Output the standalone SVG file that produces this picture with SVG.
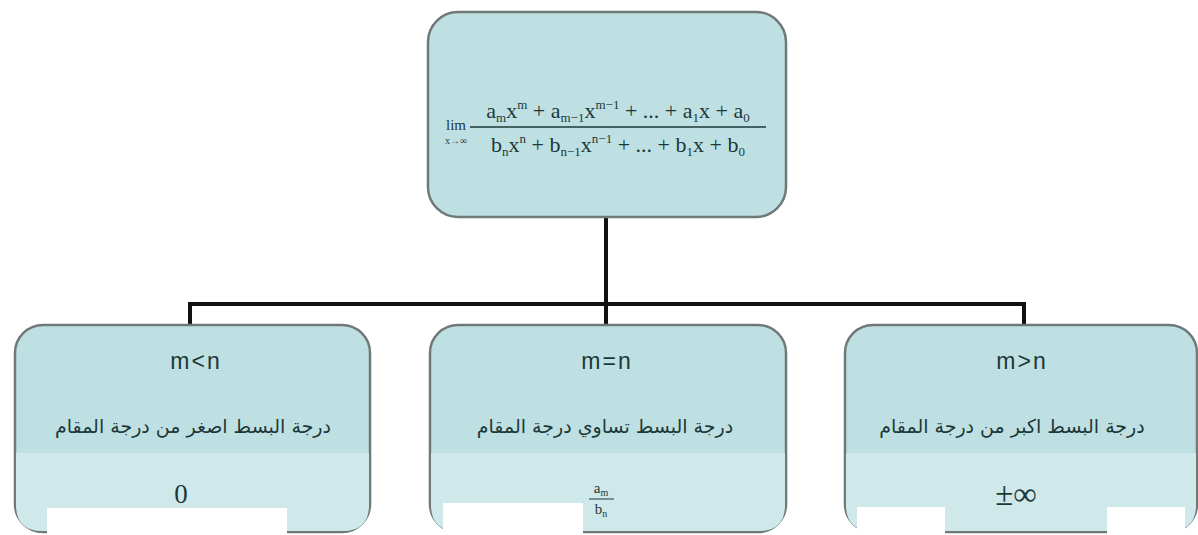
<svg xmlns="http://www.w3.org/2000/svg" width="1198" height="535" viewBox="0 0 1198 535">
<style>
.box{fill:#bfe0e3;stroke:#6f7a78;stroke-width:2.5}
.band{fill:#cfe8ea}
.wh{fill:#ffffff}
.conn{stroke:#111;stroke-width:4;fill:none}
.lbl{font-family:"Liberation Sans",Arial,sans-serif;font-size:23px;letter-spacing:2px;fill:#1d3838;text-anchor:middle}
.ar{font-family:"DejaVu Sans","Noto Sans",sans-serif;font-size:19px;fill:#1d3838;text-anchor:middle}
.math{font-family:"Liberation Serif","Times New Roman",serif;fill:#1d3838}
</style>
<rect width="1198" height="535" fill="#ffffff"/>
<g id="connectors">
<path class="conn" d="M606 216 V304 M190 304 H1024 M190 302 V326 M606 304 V326 M1024 302 V326"/>
</g>
<g id="top">
<rect class="box" x="428" y="12" width="358" height="205" rx="30"/>
<text class="math" x="456" y="130" font-size="15" text-anchor="middle">lim</text>
<text class="math" x="456" y="144" font-size="10" text-anchor="middle">x→∞</text>
<line x1="470" y1="127" x2="766" y2="127" stroke="#1d3838" stroke-width="1.5"/>
<text class="math" x="618" y="118" font-size="22" text-anchor="middle">a<tspan font-size="13" dy="4">m</tspan><tspan dy="-4">x</tspan><tspan font-size="13" dy="-9">m</tspan><tspan dy="9"> + a</tspan><tspan font-size="13" dy="4">m−1</tspan><tspan dy="-4">x</tspan><tspan font-size="13" dy="-9">m−1</tspan><tspan dy="9"> + ... + a</tspan><tspan font-size="13" dy="4">1</tspan><tspan dy="-4">x + a</tspan><tspan font-size="13" dy="4">0</tspan></text>
<text class="math" x="618" y="152" font-size="22" text-anchor="middle">b<tspan font-size="13" dy="4">n</tspan><tspan dy="-4">x</tspan><tspan font-size="13" dy="-9">n</tspan><tspan dy="9"> + b</tspan><tspan font-size="13" dy="4">n−1</tspan><tspan dy="-4">x</tspan><tspan font-size="13" dy="-9">n−1</tspan><tspan dy="9"> + ... + b</tspan><tspan font-size="13" dy="4">1</tspan><tspan dy="-4">x + b</tspan><tspan font-size="13" dy="4">0</tspan></text>
</g>
<g id="left">
<rect class="box" x="15" y="325" width="355" height="207" rx="28"/>
<path class="band" d="M16 453 H369 V505 Q369 531 343 531 H42 Q16 531 16 505 Z"/>
<rect class="wh" x="47" y="508" width="240" height="27"/>
<text class="lbl" x="196" y="369">m&lt;n</text>
<text class="ar" x="193" y="433" direction="rtl">درجة البسط اصغر من درجة المقام</text>
<text class="math" x="181" y="503" font-size="27" text-anchor="middle">0</text>
</g>
<g id="middle">
<rect class="box" x="430" y="325" width="356" height="207" rx="28"/>
<path class="band" d="M431 453 H785 V505 Q785 531 759 531 H457 Q431 531 431 505 Z"/>
<rect class="wh" x="443" y="503" width="140" height="32"/>
<text class="lbl" x="607" y="369">m=n</text>
<text class="ar" x="605" y="433" direction="rtl">درجة البسط تساوي درجة المقام</text>
<text class="math" x="601" y="493" font-size="15" text-anchor="middle">a<tspan font-size="10" dy="3">m</tspan></text>
<line x1="589" y1="499" x2="614" y2="499" stroke="#1d3838" stroke-width="1"/>
<text class="math" x="601" y="514" font-size="15" text-anchor="middle">b<tspan font-size="10" dy="3">n</tspan></text>
</g>
<g id="right">
<rect class="box" x="845" y="325" width="352" height="207" rx="28"/>
<path class="band" d="M846 453 H1196 V505 Q1196 531 1170 531 H872 Q846 531 846 505 Z"/>
<rect class="wh" x="857" y="507" width="88" height="28"/>
<rect class="wh" x="1107" y="507" width="78" height="28"/>
<text class="lbl" x="1022" y="369">m&gt;n</text>
<text class="ar" x="1012" y="433" direction="rtl">درجة البسط اكبر من درجة المقام</text>
<text class="math" x="1016" y="505" font-size="33" text-anchor="middle">±∞</text>
</g>
</svg>
